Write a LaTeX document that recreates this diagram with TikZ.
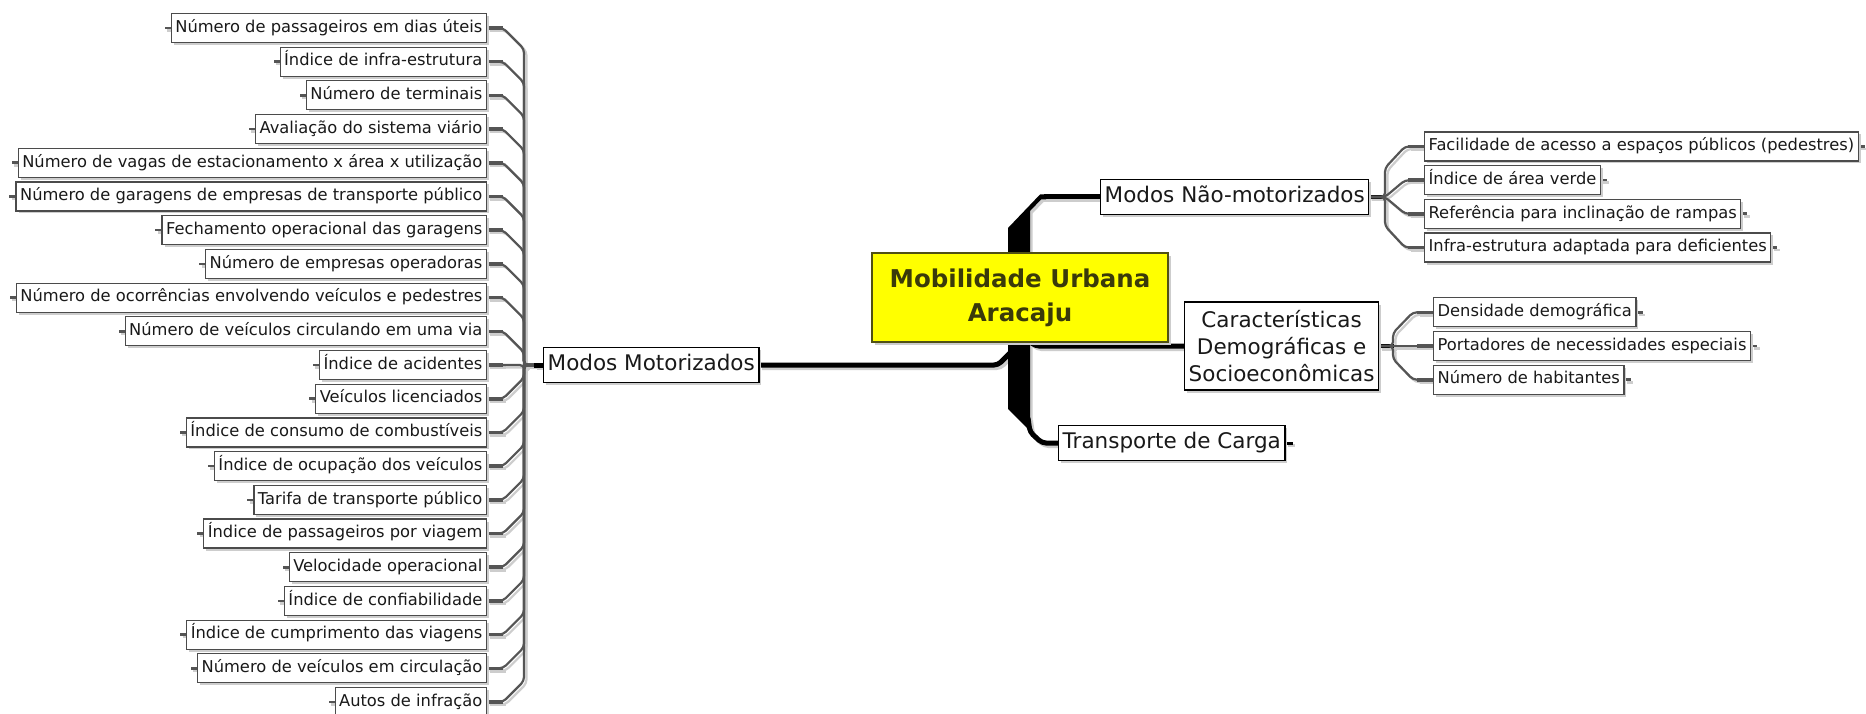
\documentclass[tikz,border=0pt]{standalone}
\usepackage{fontspec}
\setmainfont{DejaVu Sans}
\usetikzlibrary{shadows}
\pgfdeclarelayer{bg}
\pgfsetlayers{bg,main}
\definecolor{olivetext}{RGB}{58,58,10}
\definecolor{olivebd}{RGB}{80,80,20}
\definecolor{lineg}{RGB}{85,85,85}
\definecolor{boxb}{RGB}{75,75,75}
\definecolor{shadowg}{RGB}{205,205,205}
\definecolor{rootyellow}{RGB}{255,255,0}
\tikzset{
  leaf/.style={draw=boxb, line width=1.2pt, fill=white, inner xsep=4pt, inner ysep=0pt,
    text height=12.5pt, text depth=4pt,
    minimum height=29pt, font=\fontsize{16.3}{19}\selectfont, text=black!90,
    general shadow={fill=shadowg, shadow xshift=2.5pt, shadow yshift=-2.5pt}},
  mainbox/.style={draw=black, line width=1.4pt, fill=white, inner xsep=4pt, inner ysep=4pt,
    minimum height=35pt, font=\fontsize{21.5}{27.4}\selectfont, text=black!90,
    general shadow={fill=shadowg, shadow xshift=2.5pt, shadow yshift=-2.5pt}},
  oneline/.style={text height=16pt, text depth=5pt, inner ysep=0pt},
  rootbox/.style={draw=olivebd, line width=1.4pt, fill=rootyellow, align=center,
    minimum width=296pt, minimum height=89pt, inner sep=0pt,
    font=\fontsize{24.5}{34}\selectfont\bfseries, text=olivetext,
    general shadow={fill=shadowg, shadow xshift=2.5pt, shadow yshift=-2.5pt}},
  subline/.style={line width=2.2pt, rounded corners=4pt},
  stubline/.style={line width=3.6pt},
  tabline/.style={line width=2.6pt},
  mainline/.style={line width=5pt, rounded corners=4pt},
}
\newcommand\drawconns[2]{%
  % left column
  \foreach \i [evaluate=\i as \s using {int(\i<10)-int(\i>10)}] in {0,...,20}{
    \draw[subline, draw=#1] (L\i.east) -- ++(16,0) -- ++(21,{21*\s}) |- (MM.west);
    \draw[stubline, draw=#1] (L\i.east) -- ++(16,0);
    \draw[tabline, draw=#1] (L\i.west) -- ++(-6,0);
  }
  \draw[line width=5pt, draw=#2] (MM.west) -- ++(-9,0);
  % level one
  \draw[mainline, draw=#2] (MM.east) -- (998,365) -- (1011,352);
  \fill[#2] (1008,228) -- (1040,194.5) -- (1046,194.5) -- (1046,199.5) -- (1041,199.5) -- (1030,211)
     -- (1030,431) -- (1008,409) -- cycle;
  \draw[line width=5pt, draw=#2] (1044,197) -- (MN.west);
  \draw[mainline, draw=#2] (1025,337) -- (1035,346) -- (CD.west);
  \draw[mainline, draw=#2] (1028,418) -- (1030,432) -- (1042,443) -- (TC.west);
  \draw[line width=3pt, draw=#2] (TC.east) -- ++(7,0);
  % Modos Nao-motorizados children
  \draw[line width=4pt, draw=#2] (MN.east) -- (1386,197);
  \draw[subline, draw=#1] (MN.east) -- (1385,197) -- (1385,168) -- (1405,146.5) -- (N1.west);
  \draw[subline, draw=#1] (MN.east) -- (1385,197) -- (1405,180.2) -- (N2.west);
  \draw[subline, draw=#1] (MN.east) -- (1385,197) -- (1405,213.8) -- (N3.west);
  \draw[subline, draw=#1] (MN.east) -- (1385,197) -- (1385,226) -- (1405,247.5) -- (N4.west);
  \foreach \n in {N1,N2,N3,N4}{
    \draw[stubline, draw=#1] (\n.west) -- ++(-16,0);
    \draw[tabline, draw=#1] (\n.east) -- ++(6,0);
  }
  % Caracteristicas children
  \draw[line width=4pt, draw=#2] (CD.east) -- (1394,346);
  \draw[subline, draw=#1] (CD.east) -- (1393,346) -- (1393,333) -- (1413,312.3) -- (D1.west);
  \draw[subline, draw=#1] (CD.east) -- (D2.west);
  \draw[subline, draw=#1] (CD.east) -- (1393,346) -- (1393,359) -- (1413,379.7) -- (D3.west);
  \foreach \n in {D1,D2,D3}{
    \draw[stubline, draw=#1] (\n.west) -- ++(-16,0);
    \draw[tabline, draw=#1] (\n.east) -- ++(6,0);
  }
}
\begin{document}
\begin{tikzpicture}[x=1pt,y=-1pt]
\useasboundingbox (0,0) rectangle (1866,714);
% left column leaves
\foreach \t [count=\c from 0] in {
  Número de passageiros em dias úteis,
  Índice de infra-estrutura,
  Número de terminais,
  Avaliação do sistema viário,
  Número de vagas de estacionamento x área x utilização,
  Número de garagens de empresas de transporte público,
  Fechamento operacional das garagens,
  Número de empresas operadoras,
  Número de ocorrências envolvendo veículos e pedestres,
  Número de veículos circulando em uma via,
  Índice de acidentes,
  Veículos licenciados,
  Índice de consumo de combustíveis,
  Índice de ocupação dos veículos,
  Tarifa de transporte público,
  Índice de passageiros por viagem,
  Velocidade operacional,
  Índice de confiabilidade,
  Índice de cumprimento das viagens,
  Número de veículos em circulação,
  Autos de infração}{
  \node[leaf, anchor=east] (L\c) at (487,{28+33.7*\c}) {\t};
}
\node[mainbox, oneline, anchor=west] (MM) at (543,365) {Modos Motorizados};
\node[rootbox] (root) at (1020,297.5) {Mobilidade Urbana\\Aracaju};
\node[mainbox, oneline, anchor=west] (MN) at (1100,197) {Modos Não-motorizados};
\node[mainbox, anchor=west, align=center, minimum height=88pt] (CD) at (1184,346)
  {Características\\Demográficas e\\Socioeconômicas};
\node[mainbox, oneline, anchor=west] (TC) at (1058,443) {Transporte de Carga};
\node[leaf, anchor=west] (N1) at (1424,146.5) {Facilidade de acesso a espaços públicos (pedestres)};
\node[leaf, anchor=west] (N2) at (1424,180.2) {Índice de área verde};
\node[leaf, anchor=west] (N3) at (1424,213.8) {Referência para inclinação de rampas};
\node[leaf, anchor=west] (N4) at (1424,247.5) {Infra-estrutura adaptada para deficientes};
\node[leaf, anchor=west] (D1) at (1433,312.3) {Densidade demográfica};
\node[leaf, anchor=west] (D2) at (1433,346) {Portadores de necessidades especiais};
\node[leaf, anchor=west] (D3) at (1433,379.7) {Número de habitantes};
\begin{pgfonlayer}{bg}
  \fill[white] (0,0) rectangle (1866,714);
  \begin{scope}[transform canvas={shift={(2.5,2.5)}}]
    \drawconns{shadowg}{shadowg}
  \end{scope}
  \drawconns{lineg}{black}
\end{pgfonlayer}
\end{tikzpicture}
\end{document}
